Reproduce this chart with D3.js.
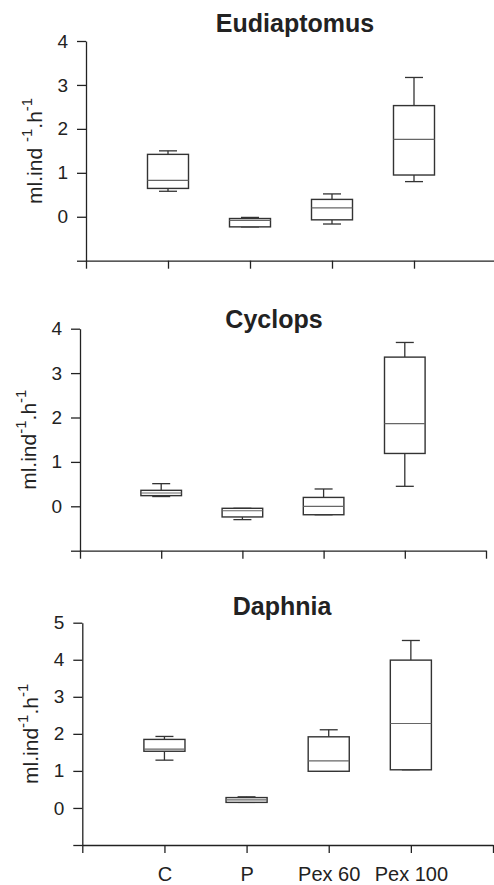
<!DOCTYPE html>
<html>
<head>
<meta charset="utf-8">
<script src="https://cdn.jsdelivr.net/npm/d3@7"></script>
<style>
  body { margin: 0; background: #fff; }
  svg { display: block; font-family: "Liberation Sans", Arial, sans-serif; }
</style>
</head>
<body>
<script>
// categories on the x axis
const categories = ["C", "P", "Pex 60", "Pex 100"];

// box stats per category: [whisker low, q1, median, q3, whisker high]
const eudiaptomusStats = [
    [0.58, 0.645, 0.83, 1.42, 1.5],
    [-0.23, -0.23, -0.08, -0.04, -0.015],
    [-0.165, -0.07, 0.2, 0.395, 0.52],
    [0.8, 0.95, 1.76, 2.53, 3.17]
];
const cyclopsStats = [
    [0.22, 0.24, 0.30, 0.36, 0.51],
    [-0.3, -0.24, -0.1, -0.045, -0.045],
    [-0.19, -0.19, 0.0, 0.2, 0.39],
    [0.45, 1.19, 1.86, 3.36, 3.69]
];
const daphniaStats = [
    [1.29, 1.53, 1.59, 1.85, 1.93],
    [0.15, 0.15, 0.22, 0.28, 0.30],
    [0.99, 0.99, 1.27, 1.92, 2.11],
    [1.03, 1.03, 2.28, 3.99, 4.52]
];

const titles = ["Eudiaptomus", "Cyclops", "Daphnia"];
const yDomains = [[-1, 4], [-1, 4], [-1, 5]];
const yTicksA = [-1, 0, 1, 2, 3, 4];
const yTicksB = [-1, 0, 1, 2, 3, 4, 5];
const labelGap = [" ", "", ""]; // first panel has a space before -1

// layout of the three panels (pixels)
const layout = [
    {x0: 86, x1: 496, yTop: 41, yBottom: 260.7, titleX: 295, titleY: 32, labels: false},
    {x0: 80, x1: 486, yTop: 328.7, yBottom: 550.7, titleX: 274, titleY: 328, labels: false},
    {x0: 82.3, x1: 493, yTop: 622.7, yBottom: 845, titleX: 282, titleY: 615, labels: true}
];

const allStats = [eudiaptomusStats, cyclopsStats, daphniaStats];
const allTicks = [yTicksA, yTicksA, yTicksB];

let svg = d3.select("body").append("svg")
    .attr("width", 494)
    .attr("height", 885);

svg.append("rect").attr("width", 494).attr("height", 885).attr("fill", "#fff");

allStats.forEach((stats, i) => {
    let L = layout[i];
    let x = d3.scalePoint()
        .domain(["_left", ...categories, "_right"])
        .range([L.x0, L.x1]);
    let y = d3.scaleLinear()
        .domain(yDomains[i])
        .range([L.yBottom, L.yTop]);

    let g = svg.append("g");

    // y axis
    let yAxis = g.append("g")
        .attr("transform", "translate(" + L.x0 + ",0)")
        .call(d3.axisLeft(y)
            .tickValues(allTicks[i])
            .tickSize(9)
            .tickSizeOuter(0)
            .tickPadding(9)
            .tickFormat(d => d < 0 ? "" : d));

    // x axis
    let xAxis = g.append("g")
        .attr("transform", "translate(0," + L.yBottom + ")")
        .call(d3.axisBottom(x)
            .tickSize(8)
            .tickSizeOuter(0)
            .tickPadding(14)
            .tickFormat(d => (L.labels && categories.includes(d)) ? d : ""));

    [yAxis, xAxis].forEach(ax => {
        ax.selectAll("path, line").attr("stroke", "#222").attr("stroke-width", 1.3);
        ax.selectAll("text").attr("fill", "#222").style("font-size", "19px");
    });
    xAxis.selectAll("text").style("font-size", "20px");

    // boxes
    let boxW = x.step() / 2, capW = 18;
    let boxes = g.selectAll("g.box")
        .data(stats)
        .join("g")
        .attr("class", "box")
        .attr("transform", (d, k) => "translate(" + x(categories[k]) + ",0)");

    boxes.append("line")
        .attr("y1", d => y(d[4])).attr("y2", d => y(d[3]))
        .attr("stroke", "#333").attr("stroke-width", 1.3);
    boxes.append("line")
        .attr("y1", d => y(d[1])).attr("y2", d => y(d[0]))
        .attr("stroke", "#333").attr("stroke-width", 1.3);
    boxes.append("line")
        .attr("x1", -capW / 2).attr("x2", capW / 2)
        .attr("y1", d => y(d[4])).attr("y2", d => y(d[4]))
        .attr("stroke", "#333").attr("stroke-width", 1.3);
    boxes.append("line")
        .attr("x1", -capW / 2).attr("x2", capW / 2)
        .attr("y1", d => y(d[0])).attr("y2", d => y(d[0]))
        .attr("stroke", "#333").attr("stroke-width", 1.3);
    boxes.append("rect")
        .attr("x", -boxW / 2)
        .attr("width", boxW)
        .attr("y", d => y(d[3]))
        .attr("height", d => y(d[1]) - y(d[3]))
        .attr("fill", "#fff")
        .attr("stroke", "#333")
        .attr("stroke-width", 1.4);
    boxes.append("line")
        .attr("x1", -boxW / 2).attr("x2", boxW / 2)
        .attr("y1", d => y(d[2])).attr("y2", d => y(d[2]))
        .attr("stroke", "#666").attr("stroke-width", 1.2);

    // title
    g.append("text")
        .attr("x", L.titleX)
        .attr("y", L.titleY)
        .attr("text-anchor", "middle")
        .attr("font-weight", "bold")
        .style("font-size", "25px")
        .attr("fill", "#222")
        .text(titles[i]);

    // y label
    let lab = g.append("text")
        .attr("transform", "translate(" + (L.x0 - 44) + "," + ((L.yTop + L.yBottom) / 2) + ") rotate(-90)")
        .attr("text-anchor", "middle")
        .style("font-size", "21px")
        .attr("fill", "#222");
    lab.append("tspan").text("ml.ind" + labelGap[i]);
    lab.append("tspan").attr("dy", -10).style("font-size", "15px").text("-1");
    lab.append("tspan").attr("dy", 10).text(".h");
    lab.append("tspan").attr("dy", -10).style("font-size", "15px").text("-1");
});
</script>
</body>
</html>
